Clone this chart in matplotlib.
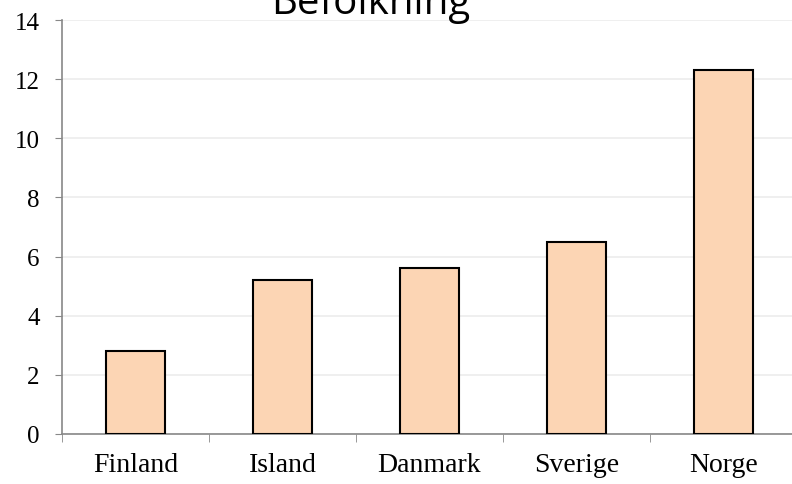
import matplotlib.pyplot as plt
import numpy as np

countries = ["Finland", "Island", "Danmark", "Sverige", "Norge"]
population = [2.8, 5.2, 5.6, 6.5, 12.3]
yticks = [0, 2, 4, 6, 8, 10, 12, 14]

fig = plt.figure(figsize=(7.92, 4.85), dpi=100)
ax = fig.add_axes([62 / 792, 50 / 485, 735 / 792, 414 / 485])

x = np.arange(len(countries))
ax.bar(x, population, width=0.4, color="#fcd5b4", edgecolor="black", linewidth=1.5, zorder=3)

ax.set_xlim(-0.5, 4.5)
ax.set_ylim(0, 14)
ax.set_yticks(yticks)
ax.set_yticklabels([str(v) for v in yticks], family="Liberation Serif", fontsize=18)
ax.set_xticks(x)
ax.set_xticklabels(countries, family="Liberation Serif", fontsize=20)
ax.tick_params(axis="x", length=0, pad=13)
ax.tick_params(axis="y", length=5, color="#888888", pad=11)
ax.set_xticks(np.arange(-0.5, 5, 1), minor=True)
ax.tick_params(axis="x", which="minor", length=6, color="#888888")
ax.grid(axis="y", color="#ececec", linewidth=1.2, zorder=0)
for s in ["top", "right"]:
    ax.spines[s].set_visible(False)
for s in ["left", "bottom"]:
    ax.spines[s].set_color("#888888")
    ax.spines[s].set_linewidth(1.2)

fig.text(371 / 792, 1.0 - 14 / 485, "Befolkning", ha="center", va="baseline",
         family="Open Sans", fontsize=29)

fig.savefig("out.png", dpi=100)
